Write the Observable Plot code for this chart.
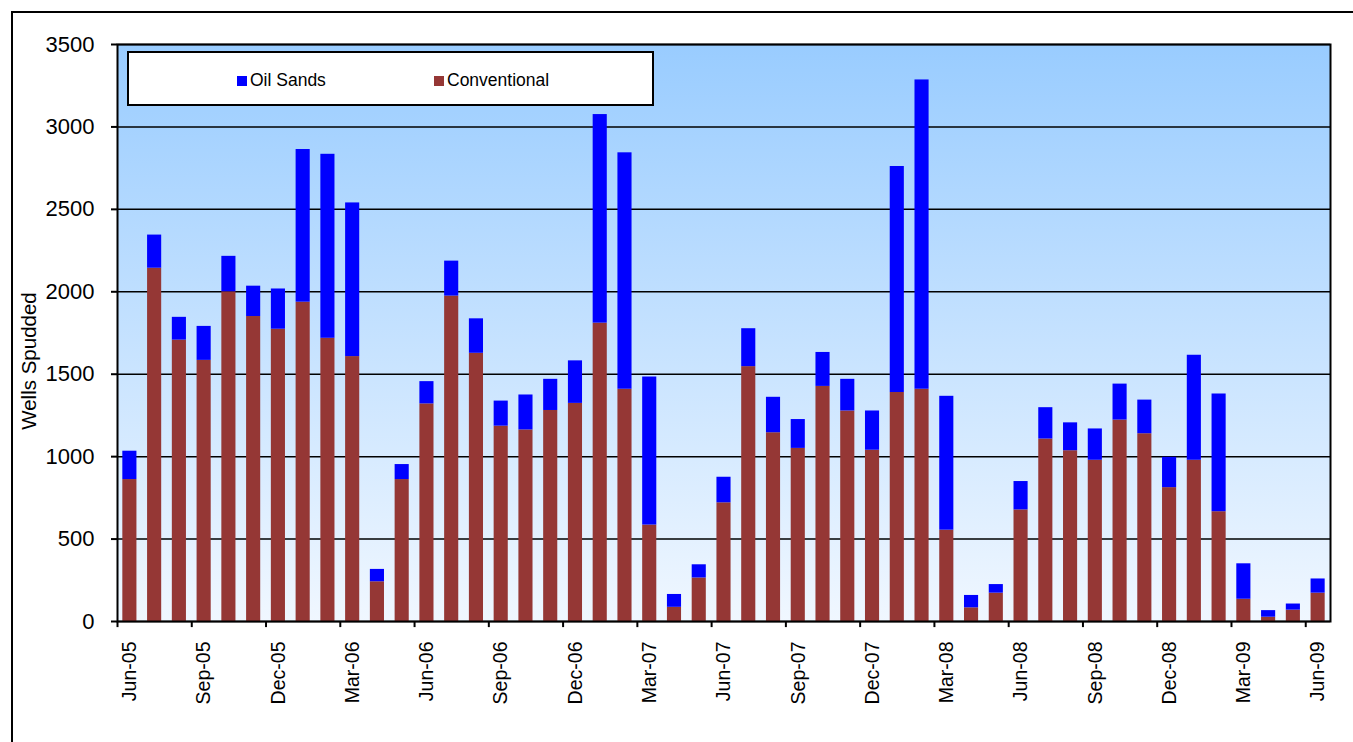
<!DOCTYPE html>
<html>
<head>
<meta charset="utf-8">
<script src="https://cdn.jsdelivr.net/npm/d3@7"></script>
<script src="https://cdn.jsdelivr.net/npm/@observablehq/plot@0.6"></script>
<style>
  html, body { margin: 0; padding: 0; background: #fff; overflow: hidden; }
  body { width: 1353px; height: 742px; position: relative; font-family: "Liberation Sans", Arial, sans-serif; }
  #outer { position: absolute; left: 11px; top: 11px; width: 1500px; height: 900px; border-left: 2px solid #000; border-top: 2px solid #000; box-sizing: border-box; }
  #chart { position: absolute; left: 0; top: 0; }
  #legend { position: absolute; left: 127px; top: 51px; width: 527px; height: 55px; box-sizing: border-box; border: 2px solid #000; background: #fff; }
  .item { position: absolute; top: 17px; font-size: 17.5px; line-height: 20px; color: #000; white-space: nowrap; }
  .sw { display: inline-block; width: 10px; height: 10px; vertical-align: 0px; margin-right: 3px; }
  #ytitle { position: absolute; left: 29px; top: 361px; transform: translate(-50%, -50%) rotate(-90deg); font-size: 20.5px; color: #000; white-space: nowrap; line-height: 22px; }
</style>
</head>
<body>
<div id="outer"></div>
<div id="chart"></div>
<div id="ytitle"></div>
<div id="legend">
  <div class="item" style="left:108px"><span class="sw" style="background:#0000FF"></span>Oil Sands</div>
  <div class="item" style="left:305px"><span class="sw" style="background:#953735"></span>Conventional</div>
</div>
<script>
const months = ["Jun-05","Jul-05","Aug-05","Sep-05","Oct-05","Nov-05","Dec-05",
  "Jan-06","Feb-06","Mar-06","Apr-06","May-06","Jun-06","Jul-06","Aug-06","Sep-06","Oct-06","Nov-06","Dec-06",
  "Jan-07","Feb-07","Mar-07","Apr-07","May-07","Jun-07","Jul-07","Aug-07","Sep-07","Oct-07","Nov-07","Dec-07",
  "Jan-08","Feb-08","Mar-08","Apr-08","May-08","Jun-08","Jul-08","Aug-08","Sep-08","Oct-08","Nov-08","Dec-08",
  "Jan-09","Feb-09","Mar-09","Apr-09","May-09","Jun-09"];

const conventional = [861,2143,1707,1584,2000,1850,1773,
  1937,1718,1607,241,861,1320,1974,1627,1185,1162,1280,1323,
  1810,1409,585,86,264,720,1546,1145,1050,1426,1277,1039,
  1389,1409,554,83,172,677,1107,1036,978,1222,1139,812,
  978,666,135,26,69,172];

const oilSands = [172,201,138,206,215,184,244,
  926,1116,932,75,91,135,212,209,152,212,189,258,
  1265,1434,898,78,80,155,230,215,175,206,192,238,
  1371,1876,812,75,52,172,190,169,190,218,204,184,
  637,714,215,40,37,86];

const tickMonths = ["Jun-05","Sep-05","Dec-05","Mar-06","Jun-06","Sep-06","Dec-06","Mar-07",
  "Jun-07","Sep-07","Dec-07","Mar-08","Jun-08","Sep-08","Dec-08","Mar-09","Jun-09"];

const yTicks = [0,500,1000,1500,2000,2500,3000,3500];
const seriesNames = ["Oil Sands","Conventional"];
const seriesColors = ["#0000FF","#953735"];
const yTitle = "Wells Spudded";
document.getElementById("ytitle").textContent = yTitle;

const rows = [];
months.forEach((m, i) => rows.push({month: m, series: "Conventional", value: conventional[i]}));
months.forEach((m, i) => rows.push({month: m, series: "Oil Sands", value: oilSands[i]}));

const W = 1353, H = 742, mL = 117, mR = 23, mT = 44, mB = 121;
const step = (W - mL - mR) / months.length;

function background(index, scales, values, dims) {
  const ns = "http://www.w3.org/2000/svg";
  const g = document.createElementNS(ns, "g");
  const defs = document.createElementNS(ns, "defs");
  const lg = document.createElementNS(ns, "linearGradient");
  lg.setAttribute("id", "bgGrad");
  lg.setAttribute("x1", "0"); lg.setAttribute("y1", "0");
  lg.setAttribute("x2", "0"); lg.setAttribute("y2", "1");
  [["0%", "#99CCFF"], ["100%", "#F0F7FF"]].forEach(([o, c]) => {
    const s = document.createElementNS(ns, "stop");
    s.setAttribute("offset", o); s.setAttribute("stop-color", c);
    lg.appendChild(s);
  });
  defs.appendChild(lg);
  g.appendChild(defs);
  const r = document.createElementNS(ns, "rect");
  r.setAttribute("x", dims.marginLeft);
  r.setAttribute("y", dims.marginTop);
  r.setAttribute("width", dims.width - dims.marginLeft - dims.marginRight);
  r.setAttribute("height", dims.height - dims.marginTop - dims.marginBottom);
  r.setAttribute("fill", "url(#bgGrad)");
  g.appendChild(r);
  return g;
}

const chart = Plot.plot({
  width: W, height: H,
  marginLeft: mL, marginRight: mR, marginTop: mT, marginBottom: mB,
  style: {background: "transparent", fontFamily: "'Liberation Sans', Arial, sans-serif", color: "#000", overflow: "visible"},
  x: {type: "band", domain: months, paddingInner: 0.43, paddingOuter: 0.215, align: 0.5},
  y: {domain: [0, 3500]},
  color: {domain: seriesNames, range: seriesColors},
  marks: [
    background,
    Plot.gridY(yTicks, {stroke: "#000", strokeOpacity: 1, strokeWidth: 1.5}),
    Plot.barY(rows, Plot.stackY({x: "month", y: "value", fill: "series", order: null})),
    Plot.ruleX(tickMonths, {x: d => d, y1: 0, y2: -37, dx: -step / 2, stroke: "#000", strokeWidth: 2}),
    Plot.axisY(yTicks, {tickSize: 6, tickPadding: 17, fontSize: 22, tickFormat: d => String(d), stroke: "#000", strokeWidth: 2, label: null}),
    Plot.axisX(tickMonths, {tickSize: 0, tickRotate: -90, tickPadding: 20, fontSize: 19.5, label: null}),
    Plot.frame({stroke: "#000", strokeWidth: 2})
  ]
});
document.getElementById("chart").appendChild(chart);
</script>
</body>
</html>
